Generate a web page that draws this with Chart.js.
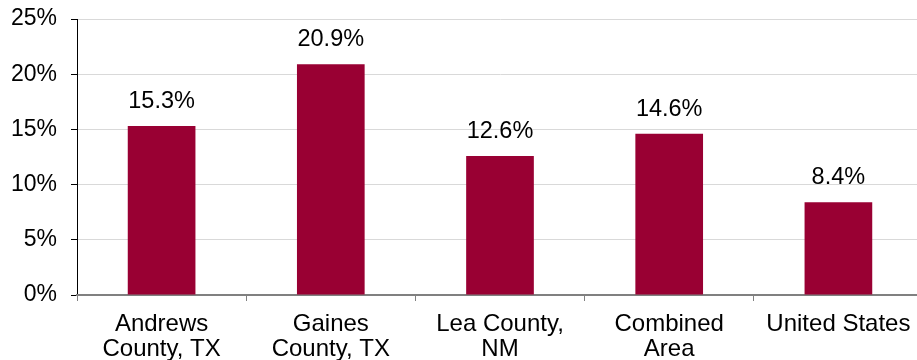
<!DOCTYPE html>
<html>
<head>
<meta charset="utf-8">
<script src="https://cdn.jsdelivr.net/npm/chart.js@4"></script>
<style>
    html, body { margin: 0; padding: 0; background: #fff; overflow: hidden; }
    #wrap { width: 923px; height: 360px; }
</style>
</head>
<body>
<div id="wrap"><canvas id="rateChart"></canvas></div>
<script>
const categories = [
    ['Andrews', 'County, TX'],
    ['Gaines', 'County, TX'],
    ['Lea County,', 'NM'],
    ['Combined', 'Area'],
    'United States'
];
const rates = [15.3, 20.9, 12.6, 14.6, 8.4];
const yTicks = [0, 5, 10, 15, 20, 25];

const FONT = '"Liberation Sans", Arial, sans-serif';

// etiqueta de valor encima de cada barra
const valueLabels = {
    id: 'valueLabels',
    afterDatasetsDraw(chart) {
        const ctx = chart.ctx;
        const meta = chart.getDatasetMeta(0);
        ctx.save();
        ctx.font = '23.5px ' + FONT;
        ctx.fillStyle = '#000';
        ctx.textAlign = 'center';
        ctx.textBaseline = 'alphabetic';
        meta.data.forEach((bar, i) => {
            ctx.fillText(rates[i].toFixed(1) + '%', bar.x, bar.y - 18);
        });
        ctx.restore();
    }
};

document.addEventListener('DOMContentLoaded', () => {
    const ctx = document.getElementById('rateChart').getContext('2d');

    new Chart(ctx, {
        type: 'bar',
        data: {
            labels: categories,
            datasets: [{
                data: rates,
                backgroundColor: '#990033',
                borderWidth: 0,
                barPercentage: 0.4,
                categoryPercentage: 1.0
            }]
        },
        options: {
            responsive: true,
            maintainAspectRatio: false,
            animation: false,
            layout: { padding: { top: 19, right: 0, bottom: 0, left: 0 } },
            scales: {
                y: {
                    min: 0,
                    max: 25,
                    afterBuildTicks: (axis) => {
                        axis.ticks = yTicks.map(v => ({ value: v }));
                    },
                    afterFit: (axis) => {
                        axis.width = 77;
                        axis.paddingTop = 0;
                        axis.paddingBottom = 0;
                    },
                    ticks: {
                        font: { family: FONT, size: 23 },
                        color: '#000',
                        padding: 14,
                        callback: (v) => v + '%'
                    },
                    grid: {
                        color: '#d9d9d9',
                        tickColor: '#000',
                        tickLength: 6,
                        lineWidth: 1
                    },
                    border: { color: '#000', width: 1 }
                },
                x: {
                    afterFit: (axis) => { axis.height = 65; },
                    ticks: {
                        font: { family: FONT, size: 24, lineHeight: 1.05 },
                        color: '#000',
                        padding: 11,
                        maxRotation: 0,
                        autoSkip: false
                    },
                    grid: {
                        drawOnChartArea: false,
                        tickColor: '#808080',
                        tickLength: 6
                    },
                    border: { color: '#808080', width: 2 }
                }
            },
            plugins: {
                legend: { display: false },
                tooltip: { enabled: false }
            }
        },
        plugins: [valueLabels]
    });
});
</script>
</body>
</html>
